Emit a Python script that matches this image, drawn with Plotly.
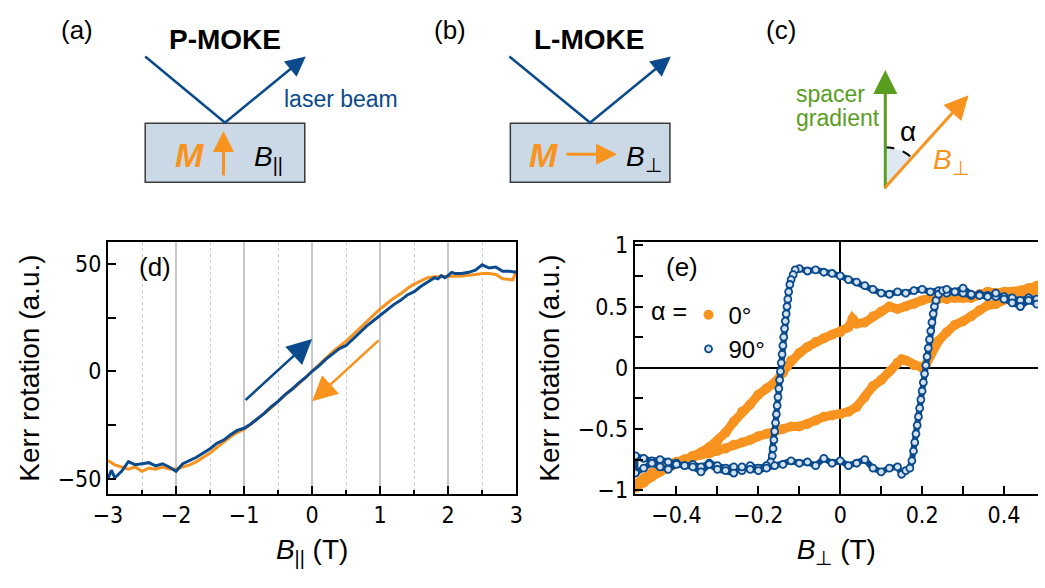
import math
import plotly.graph_objects as go

W, H = 1045, 588
def px(x): return x / W
def py(y): return 1 - y / H

BLUE = '#0b4a8c'
ORANGE = '#f7931e'
GREEN = '#5a9e1f'
BOXFILL = '#cbd9e7'
FONT = 'Liberation Sans, Arial, sans-serif'
NARROW = 'Liberation Sans Narrow, Arial Narrow, DejaVu Sans Condensed, Liberation Sans, sans-serif'

# ---------------- panel (d): P-MOKE loops ----------------
d_up_x = [-3.0, -2.95, -2.9, -2.8, -2.7, -2.6, -2.5, -2.4, -2.3, -2.2, -2.1, -2.0, -1.9, -1.8, -1.7,
          -1.6, -1.5, -1.4, -1.3, -1.2, -1.1, -1.0, -0.9, -0.8, -0.7, -0.6, -0.5, -0.4, -0.3, -0.2,
          -0.1, 0.0, 0.1, 0.2, 0.3, 0.4, 0.5, 0.6, 0.7, 0.8, 0.9, 1.0, 1.1, 1.2, 1.3, 1.4, 1.5, 1.6,
          1.7, 1.8, 1.85, 1.9, 1.95, 2.0, 2.05, 2.1, 2.2, 2.3, 2.4, 2.5, 2.6, 2.7, 2.8, 2.9, 3.0]
d_up_y = [-50.0, -46.0, -49.5, -46.5, -42.0, -43.5, -43.0, -42.5, -44.0, -43.0, -44.5, -46.5, -43.0,
          -41.5, -40.0, -38.0, -36.0, -33.5, -32.0, -29.5, -27.5, -26.5, -24.5, -22.0, -19.5, -16.5,
          -14.0, -11.0, -8.5, -5.5, -3.0, 0.0, 2.5, 5.5, 8.0, 10.5, 12.0, 15.0, 18.0, 21.0, 23.5, 26.0,
          28.5, 31.0, 33.0, 35.5, 37.0, 39.5, 41.5, 43.5, 43.0, 44.5, 43.5, 44.5, 46.0, 45.5, 45.5,
          46.0, 47.0, 49.5, 48.0, 48.5, 46.5, 46.5, 46.0]
d_down_x = [-3.0, -2.9, -2.8, -2.7, -2.6, -2.5, -2.4, -2.3, -2.2, -2.1, -2.0, -1.9, -1.8, -1.7, -1.6,
            -1.5, -1.4, -1.3, -1.2, -1.1, -1.0, -0.9, -0.8, -0.7, -0.6, -0.5, -0.4, -0.3, -0.2, -0.1,
            0.0, 0.1, 0.2, 0.3, 0.4, 0.5, 0.6, 0.7, 0.8, 0.9, 1.0, 1.1, 1.2, 1.3, 1.4, 1.5, 1.6, 1.7,
            1.8, 1.9, 2.0, 2.2, 2.4, 2.5, 2.6, 2.7, 2.8, 2.9, 2.95, 3.0]
d_down_y = [-41.5, -43.5, -44.5, -45.5, -44.5, -46.5, -45.0, -45.5, -44.5, -45.5, -45.5, -44.5,
            -43.5, -42.0, -40.0, -38.0, -35.5, -33.0, -30.5, -28.5, -27.0, -24.5, -22.0, -19.5,
            -17.0, -14.0, -11.0, -8.5, -6.0, -3.0, 0.0, 3.0, 6.0, 9.0, 11.5, 14.0, 17.0, 20.0, 23.0,
            26.0, 29.0, 31.5, 34.0, 36.0, 38.5, 40.5, 42.0, 43.5, 44.0, 44.0, 44.0, 44.3, 45.0, 45.5,
            45.5, 45.0, 43.0, 42.5, 42.5, 46.5]

# ---------------- panel (e): L-MOKE loops ----------------
# alpha = 0 deg, field sweep down (+0.5 -> -0.5)
e0_dn_x = [0.5, 0.48, 0.46, 0.44, 0.42, 0.4, 0.38, 0.36, 0.34, 0.32, 0.3, 0.28, 0.26, 0.24, 0.22,
           0.2, 0.18, 0.16, 0.14, 0.12, 0.1, 0.08, 0.06, 0.04, 0.03, 0.02, 0.0, -0.02, -0.04, -0.06,
           -0.08, -0.1, -0.12, -0.13, -0.14, -0.16, -0.18, -0.2, -0.22, -0.24, -0.26, -0.28, -0.3,
           -0.32, -0.34, -0.36, -0.38, -0.4, -0.42, -0.44, -0.46, -0.48, -0.5]
e0_dn_y = [0.68, 0.67, 0.65, 0.63, 0.62, 0.62, 0.61, 0.62, 0.6, 0.57, 0.57, 0.57, 0.56, 0.56, 0.57,
           0.55, 0.52, 0.5, 0.48, 0.5, 0.46, 0.42, 0.37, 0.36, 0.4, 0.33, 0.29, 0.27, 0.24, 0.21,
           0.17, 0.12, 0.06, 0.01, -0.04, -0.12, -0.17, -0.22, -0.3, -0.36, -0.44, -0.53, -0.6,
           -0.65, -0.69, -0.72, -0.75, -0.77, -0.8, -0.85, -0.89, -0.94, -0.98]
# alpha = 0 deg, field sweep up (-0.5 -> +0.5)
e0_up_x = [-0.5, -0.48, -0.46, -0.44, -0.42, -0.4, -0.38, -0.36, -0.34, -0.32, -0.3, -0.28, -0.26,
           -0.24, -0.22, -0.2, -0.18, -0.16, -0.14, -0.12, -0.1, -0.08, -0.06, -0.04, -0.02, 0.0,
           0.02, 0.04, 0.06, 0.08, 0.1, 0.12, 0.14, 0.15, 0.16, 0.18, 0.2, 0.21, 0.22, 0.24, 0.26,
           0.28, 0.3, 0.32, 0.34, 0.36, 0.38, 0.4, 0.42, 0.44, 0.46, 0.48, 0.5]
e0_up_y = [-0.95, -0.9, -0.86, -0.82, -0.79, -0.77, -0.75, -0.72, -0.71, -0.7, -0.68, -0.66, -0.63,
           -0.61, -0.59, -0.56, -0.54, -0.52, -0.5, -0.48, -0.48, -0.46, -0.43, -0.4, -0.39, -0.38,
           -0.36, -0.32, -0.24, -0.15, -0.1, -0.03, 0.04, 0.07, 0.06, 0.02, 0.0, 0.03, 0.1, 0.22,
           0.29, 0.35, 0.38, 0.42, 0.47, 0.51, 0.52, 0.56, 0.58, 0.6, 0.62, 0.64, 0.65]
# alpha = 90 deg, field sweep down
e90_dn_x = [0.5, 0.48, 0.46, 0.44, 0.42, 0.4, 0.38, 0.36, 0.34, 0.32, 0.3, 0.28, 0.26, 0.24, 0.22,
            0.2, 0.18, 0.16, 0.14, 0.12, 0.1, 0.08, 0.06, 0.04, 0.02, 0.0, -0.02, -0.04, -0.06,
            -0.08, -0.1, -0.11, -0.115, -0.12, -0.123, -0.126, -0.128, -0.13, -0.132, -0.134,
            -0.136, -0.138, -0.14, -0.142, -0.144, -0.146, -0.148, -0.15, -0.152, -0.154, -0.156,
            -0.158, -0.16, -0.162, -0.164, -0.166, -0.17, -0.18, -0.2, -0.22, -0.24, -0.26, -0.28,
            -0.3, -0.32, -0.34, -0.36, -0.38, -0.4, -0.42, -0.44, -0.46, -0.48, -0.5]
e90_dn_y = [0.55, 0.56, 0.57, 0.55, 0.57, 0.58, 0.58, 0.59, 0.6, 0.59, 0.61, 0.62, 0.61, 0.63, 0.62,
            0.64, 0.63, 0.61, 0.62, 0.6, 0.61, 0.64, 0.67, 0.7, 0.72, 0.75, 0.77, 0.78, 0.8, 0.79,
            0.81, 0.8, 0.76, 0.72, 0.68, 0.62, 0.56, 0.5, 0.44, 0.38, 0.32, 0.25, 0.18, 0.11, 0.04,
            -0.03, -0.1, -0.17, -0.24, -0.31, -0.38, -0.45, -0.52, -0.59, -0.66, -0.72, -0.77, -0.8,
            -0.82, -0.8, -0.84, -0.81, -0.82, -0.8, -0.78, -0.81, -0.79, -0.8, -0.78, -0.77, -0.75,
            -0.76, -0.74, -0.72]
# alpha = 90 deg, field sweep up
e90_up_x = [-0.5, -0.48, -0.46, -0.44, -0.42, -0.4, -0.38, -0.36, -0.34, -0.32, -0.3, -0.28, -0.26,
            -0.24, -0.22, -0.2, -0.18, -0.16, -0.14, -0.12, -0.1, -0.08, -0.06, -0.04, -0.02, 0.0,
            0.02, 0.04, 0.06, 0.08, 0.1, 0.12, 0.14, 0.15, 0.16, 0.17, 0.175, 0.179, 0.182, 0.185,
            0.188, 0.191, 0.194, 0.197, 0.2, 0.203, 0.206, 0.209, 0.212, 0.215, 0.218, 0.221, 0.224,
            0.227, 0.23, 0.234, 0.24, 0.25, 0.26, 0.28, 0.3, 0.32, 0.34, 0.36, 0.38, 0.4, 0.42, 0.44,
            0.46, 0.48, 0.5]
e90_up_y = [-0.86, -0.82, -0.78, -0.81, -0.83, -0.79, -0.8, -0.81, -0.85, -0.79, -0.83, -0.84, -0.86,
            -0.81, -0.83, -0.84, -0.82, -0.8, -0.79, -0.76, -0.78, -0.77, -0.8, -0.74, -0.78, -0.76,
            -0.8, -0.78, -0.75, -0.82, -0.85, -0.82, -0.81, -0.87, -0.84, -0.82, -0.76, -0.68, -0.61,
            -0.54, -0.47, -0.4, -0.33, -0.26, -0.19, -0.12, -0.05, 0.02, 0.09, 0.16, 0.23, 0.3, 0.37,
            0.44, 0.5, 0.55, 0.6, 0.63, 0.64, 0.62, 0.65, 0.6, 0.59, 0.58, 0.61, 0.56, 0.53, 0.5,
            0.55, 0.52, 0.51]

legend_labels = ['0°', '90°']

fig = go.Figure()

# panel d
fig.add_trace(go.Scatter(x=d_down_x, y=d_down_y, mode='lines', line=dict(color=ORANGE, width=3),
                         showlegend=False, xaxis='x', yaxis='y'))
fig.add_trace(go.Scatter(x=d_up_x, y=d_up_y, mode='lines', line=dict(color=BLUE, width=3),
                         showlegend=False, xaxis='x', yaxis='y'))

# panel e - orange (alpha=0)
e0_x = e0_dn_x + e0_up_x
e0_y = e0_dn_y + e0_up_y
fig.add_trace(go.Scatter(x=e0_x, y=e0_y, mode='lines', line=dict(color=ORANGE, width=9),
                         showlegend=False, xaxis='x2', yaxis='y2'))
fig.add_trace(go.Scatter(x=e0_x, y=e0_y, mode='markers', name=legend_labels[0],
                         marker=dict(color=ORANGE, size=10, line=dict(width=0)),
                         xaxis='x2', yaxis='y2'))
# panel e - blue (alpha=90)
e90_x = e90_dn_x + e90_up_x
e90_y = e90_dn_y + e90_up_y
fig.add_trace(go.Scatter(x=e90_x, y=e90_y, mode='lines', line=dict(color=BLUE, width=6),
                         showlegend=False, xaxis='x2', yaxis='y2'))
fig.add_trace(go.Scatter(x=e90_x, y=e90_y, mode='markers', name=legend_labels[1],
                         marker=dict(color='#d3e2f1', size=7, line=dict(color=BLUE, width=1.8)),
                         xaxis='x2', yaxis='y2'))

tickfont = dict(family=NARROW, size=23, color='black')
titlefont = dict(family=FONT, size=28, color='black')
ydom = [py(500), py(240)]

common = dict(ticks='inside', ticklen=8, tickwidth=2, tickcolor='black', showline=True,
              linecolor='black', linewidth=2, tickfont=tickfont)

fig.update_layout(
    width=W, height=588, margin=dict(l=0, r=0, t=0, b=0),
    paper_bgcolor='white', plot_bgcolor='white',
    font=dict(family=FONT, color='black'),
    xaxis=dict(domain=[px(95), px(512)], range=[-3, 3], tick0=0, dtick=1, mirror=True,
               showgrid=True, gridcolor='#c8c8c8', gridwidth=1.5, zeroline=False,
               minor=dict(dtick=0.5, tick0=0, ticks='inside', ticklen=4, tickwidth=2,
                          tickcolor='black', showgrid=True, gridcolor='#c8c8c8',
                          griddash='dot', gridwidth=1),
               title=dict(text='<i>B</i><sub>||</sub> (T)', font=titlefont, standoff=12),
               anchor='y', **common),
    yaxis=dict(domain=ydom, range=[-57, 60], tick0=0, dtick=50, mirror=True, showgrid=False,
               zeroline=False,
               minor=dict(dtick=25, tick0=0, ticks='inside', ticklen=8, tickwidth=2,
                          tickcolor='black'),
               title=dict(text='Kerr rotation (a.u.)', font=titlefont, standoff=10),
               anchor='x', **common),
    xaxis2=dict(domain=[px(633), 1.0], range=[-0.502, 0.483], tick0=0, dtick=0.2, mirror=True,
                showgrid=False, zeroline=True, zerolinecolor='black', zerolinewidth=2,
                minor=dict(dtick=0.1, tick0=0, ticks='inside', ticklen=8, tickwidth=2,
                           tickcolor='black'),
                title=dict(text='<i>B</i><sub>⊥</sub> (T)', font=titlefont, standoff=12),
                anchor='y2', **common),
    yaxis2=dict(domain=ydom, range=[-1.03, 1.025], tick0=0, dtick=0.5, mirror=False,
                showgrid=False, zeroline=True, zerolinecolor='black', zerolinewidth=2,
                minor=dict(dtick=0.25, tick0=0, ticks='inside', ticklen=8, tickwidth=2,
                           tickcolor='black'),
                title=dict(text='Kerr rotation (a.u.)', font=titlefont, standoff=10),
                anchor='x2', **common),
    legend=dict(x=px(688), y=py(292), xanchor='left', yanchor='top', bgcolor='rgba(0,0,0,0)',
                font=dict(family=FONT, size=24, color='black'), itemsizing='trace',
                tracegroupgap=0),
)

ann = []
def text(x, y, s, size=24, color='black', xanchor='center', family=FONT):
    ann.append(dict(x=px(x), y=py(y), xref='paper', yref='paper', text=s, showarrow=False,
                    xanchor=xanchor, yanchor='middle', font=dict(family=family, size=size, color=color)))

def arrow(x0, y0, x1, y1, color, width=2.5, size=1.6):
    ann.append(dict(x=px(x1), y=py(y1), xref='paper', yref='paper', ax=x0 - x1, ay=y0 - y1,
                    axref='pixel', ayref='pixel', text='', showarrow=True, arrowhead=2,
                    arrowsize=size, arrowwidth=width, arrowcolor=color, standoff=0, startstandoff=0))

shapes = []
def line(x0, y0, x1, y1, color, width=2.5, dash='solid'):
    shapes.append(dict(type='line', xref='paper', yref='paper', x0=px(x0), y0=py(y0), x1=px(x1),
                       y1=py(y1), line=dict(color=color, width=width, dash=dash)))

# (a) P-MOKE
shapes.append(dict(type='rect', xref='paper', yref='paper', x0=px(133), y0=py(178), x1=px(296),
                   y1=py(117), fillcolor=BOXFILL, line=dict(color='#3a3a3a', width=1.5), layer='below'))
line(133, 48, 214, 116, BLUE)
arrow(214, 116, 297, 48, BLUE)
arrow(213, 171, 213, 125, ORANGE, width=3, size=1.4)
text(63, 21, '(a)', size=26)
text(215, 31, '<b>P-MOKE</b>', size=28)
text(333, 92, 'laser beam', size=23, color=BLUE)
text(178, 150, '<b><i>M</i></b>', size=34, color=ORANGE)
text(259, 153, '<i>B</i><sub>||</sub>', size=28)

# (b) L-MOKE
shapes.append(dict(type='rect', xref='paper', yref='paper', x0=px(506), y0=py(178), x1=px(669),
                   y1=py(117), fillcolor=BOXFILL, line=dict(color='#3a3a3a', width=1.5), layer='below'))
line(505, 48, 587, 116, BLUE)
arrow(587, 116, 670, 48, BLUE)
arrow(563, 149, 615, 149, ORANGE, width=3, size=1.4)
text(444, 21, '(b)', size=26)
text(586, 31, '<b>L-MOKE</b>', size=28)
text(540, 150, '<b><i>M</i></b>', size=34, color=ORANGE)
text(643, 153, '<i>B</i><sub>⊥</sub>', size=28)

# (c) geometry
ox, oy = 889, 182
ang = math.atan2(974 - ox, oy - 88)
r = 40
pts = [(ox, oy), (ox, oy - r)]
for i in range(1, 11):
    a = ang * i / 10
    pts.append((ox + r * math.sin(a), oy - r * math.cos(a)))
path = 'M ' + ' L '.join(f'{px(a)},{py(b)}' for a, b in pts) + ' Z'
shapes.append(dict(type='path', xref='paper', yref='paper', path=path, fillcolor='#dfe7f0',
                   line=dict(width=0), layer='below'))
arc = 'M ' + ' L '.join(f'{px(a)},{py(b)}' for a, b in pts[1:])
shapes.append(dict(type='path', xref='paper', yref='paper', path=arc,
                   line=dict(color='black', width=2, dash='dash')))
arrow(ox, oy, ox, 62, GREEN, width=3)
arrow(ox, oy, 974, 88, ORANGE, width=3)
text(782, 21, '(c)', size=26)
text(796, 87, 'spacer', size=23, color=GREEN, xanchor='left')
text(796, 112, 'gradient', size=23, color=GREEN, xanchor='left')
text(912, 126, 'α', size=28)
text(956, 157, '<i>B</i><sub>⊥</sub>', size=28, color=ORANGE)

# panel labels
text(143, 266, '(d)', size=26)
text(681, 266, '(e)', size=26)
text(668, 311, 'α =', size=25)

# arrows in panel d (sweep direction)
ann.append(dict(x=0.0, y=15, ax=-1.0, ay=-14, xref='x', yref='y', axref='x', ayref='y', text='',
                showarrow=True, arrowhead=2, arrowsize=2.0, arrowwidth=2.5, arrowcolor=BLUE))
ann.append(dict(x=0.0, y=-14, ax=1.0, ay=15, xref='x', yref='y', axref='x', ayref='y', text='',
                showarrow=True, arrowhead=2, arrowsize=2.0, arrowwidth=2.5, arrowcolor=ORANGE))

fig.update_layout(annotations=ann, shapes=shapes)
fig.write_html('out.html')
